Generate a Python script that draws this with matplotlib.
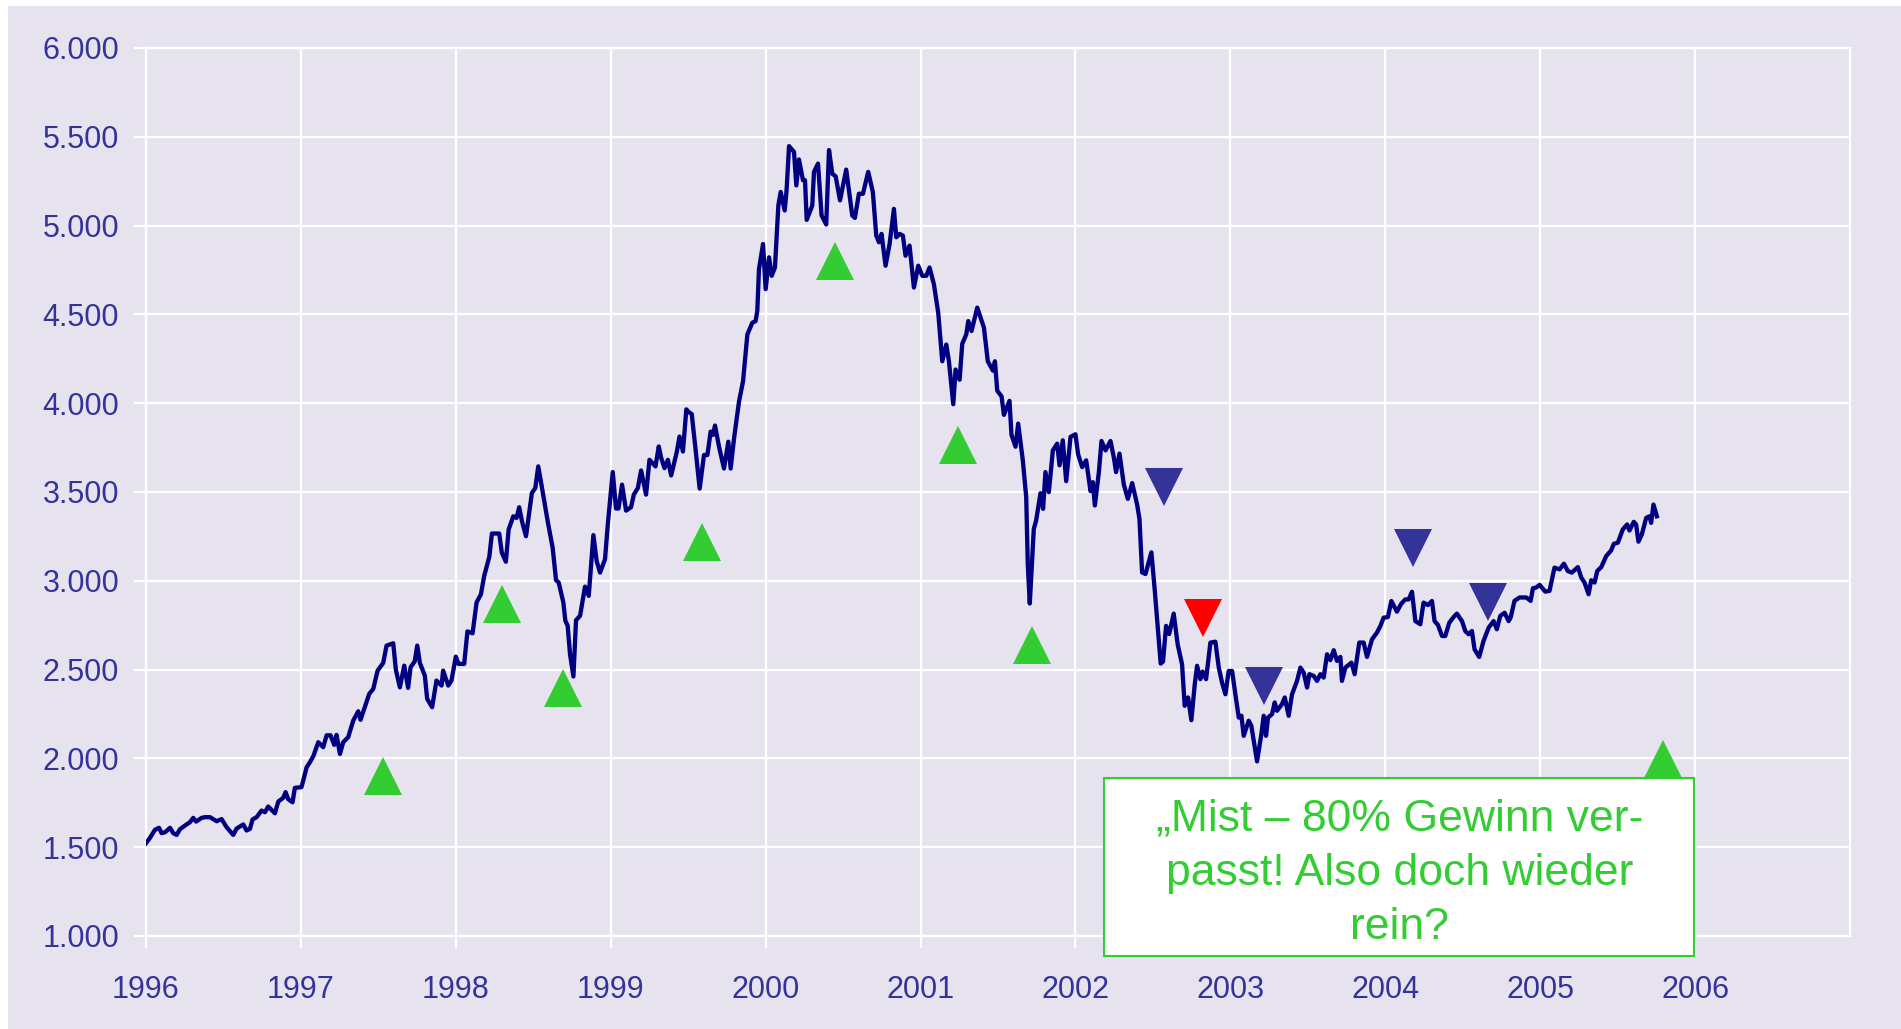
import matplotlib
matplotlib.use("Agg")
import matplotlib.pyplot as plt
from matplotlib.patches import Rectangle
from matplotlib.ticker import FuncFormatter

# index level (weekly-ish)
years = [
    1996.000, 1996.026, 1996.058, 1996.084, 1996.101, 1996.123, 1996.155, 1996.176,
    1996.198, 1996.219, 1996.252, 1996.284, 1996.305, 1996.323, 1996.359, 1996.381,
    1996.413, 1996.456, 1996.488, 1996.520, 1996.563, 1996.585, 1996.628, 1996.649,
    1996.671, 1996.688, 1996.714, 1996.746, 1996.768, 1996.789, 1996.832, 1996.854,
    1996.886, 1996.901, 1996.918, 1996.946, 1996.961, 1997.004, 1997.037, 1997.058,
    1997.080, 1997.112, 1997.144, 1997.166, 1997.191, 1997.215, 1997.230, 1997.252,
    1997.273, 1997.305, 1997.338, 1997.370, 1997.385, 1997.441, 1997.467, 1997.495,
    1997.531, 1997.553, 1997.596, 1997.613, 1997.639, 1997.667, 1997.692, 1997.708,
    1997.735, 1997.751, 1997.768, 1997.800, 1997.815, 1997.847, 1997.875, 1997.908,
    1997.918, 1997.951, 1997.972, 1998.000, 1998.017, 1998.054, 1998.075, 1998.108,
    1998.134, 1998.162, 1998.183, 1998.216, 1998.233, 1998.280, 1998.297, 1998.323,
    1998.341, 1998.371, 1998.392, 1998.409, 1998.427, 1998.453, 1998.491, 1998.513,
    1998.532, 1998.560, 1998.593, 1998.625, 1998.647, 1998.664, 1998.694, 1998.707,
    1998.722, 1998.737, 1998.759, 1998.776, 1998.802, 1998.834, 1998.858, 1998.888,
    1998.909, 1998.931, 1998.963, 1998.981, 1999.013, 1999.034, 1999.050, 1999.073,
    1999.099, 1999.131, 1999.149, 1999.175, 1999.196, 1999.228, 1999.250, 1999.289,
    1999.310, 1999.325, 1999.347, 1999.369, 1999.390, 1999.427, 1999.444, 1999.466,
    1999.488, 1999.505, 1999.523, 1999.548, 1999.574, 1999.602, 1999.624, 1999.645,
    1999.660, 1999.673, 1999.699, 1999.731, 1999.759, 1999.774, 1999.796, 1999.828,
    1999.854, 1999.882, 1999.914, 1999.935, 1999.946, 1999.957, 1999.983, 2000.000,
    2000.022, 2000.039, 2000.060, 2000.082, 2000.097, 2000.123, 2000.135, 2000.151,
    2000.183, 2000.198, 2000.215, 2000.241, 2000.254, 2000.265, 2000.301, 2000.312,
    2000.338, 2000.361, 2000.391, 2000.409, 2000.430, 2000.452, 2000.480, 2000.520,
    2000.559, 2000.576, 2000.602, 2000.628, 2000.662, 2000.692, 2000.714, 2000.731,
    2000.748, 2000.774, 2000.800, 2000.828, 2000.843, 2000.865, 2000.886, 2000.903,
    2000.929, 2000.957, 2000.985, 2001.011, 2001.037, 2001.058, 2001.086, 2001.114,
    2001.140, 2001.166, 2001.183, 2001.211, 2001.226, 2001.252, 2001.269, 2001.295,
    2001.308, 2001.329, 2001.366, 2001.409, 2001.434, 2001.467, 2001.480, 2001.495,
    2001.523, 2001.538, 2001.574, 2001.587, 2001.613, 2001.630, 2001.660, 2001.682,
    2001.692, 2001.705, 2001.731, 2001.746, 2001.774, 2001.791, 2001.806, 2001.828,
    2001.854, 2001.882, 2001.897, 2001.918, 2001.940, 2001.968, 2002.000, 2002.017,
    2002.043, 2002.069, 2002.097, 2002.112, 2002.125, 2002.151, 2002.168, 2002.194,
    2002.226, 2002.247, 2002.262, 2002.284, 2002.312, 2002.338, 2002.366, 2002.398,
    2002.413, 2002.430, 2002.452, 2002.490, 2002.512, 2002.550, 2002.565, 2002.585,
    2002.605, 2002.634, 2002.660, 2002.688, 2002.705, 2002.727, 2002.748, 2002.770,
    2002.785, 2002.806, 2002.821, 2002.843, 2002.871, 2002.903, 2002.925, 2002.946,
    2002.968, 2002.989, 2003.011, 2003.032, 2003.054, 2003.071, 2003.086, 2003.118,
    2003.135, 2003.172, 2003.200, 2003.215, 2003.230, 2003.243, 2003.269, 2003.286,
    2003.301, 2003.333, 2003.351, 2003.376, 2003.398, 2003.430, 2003.452, 2003.473,
    2003.495, 2003.510, 2003.538, 2003.559, 2003.581, 2003.602, 2003.624, 2003.645,
    2003.667, 2003.688, 2003.710, 2003.720, 2003.742, 2003.781, 2003.802, 2003.832,
    2003.860, 2003.882, 2003.914, 2003.946, 2003.968, 2003.989, 2004.017, 2004.039,
    2004.075, 2004.103, 2004.129, 2004.151, 2004.172, 2004.194, 2004.226, 2004.247,
    2004.275, 2004.301, 2004.318, 2004.340, 2004.366, 2004.387, 2004.413, 2004.441,
    2004.462, 2004.495, 2004.516, 2004.538, 2004.559, 2004.576, 2004.606, 2004.634,
    2004.667, 2004.699, 2004.720, 2004.742, 2004.770, 2004.796, 2004.809, 2004.834,
    2004.867, 2004.910, 2004.938, 2004.953, 2004.974, 2004.996, 2005.032, 2005.060,
    2005.092, 2005.125, 2005.153, 2005.178, 2005.204, 2005.243, 2005.265, 2005.286,
    2005.312, 2005.329, 2005.351, 2005.368, 2005.394, 2005.426, 2005.458, 2005.475,
    2005.501, 2005.533, 2005.561, 2005.576, 2005.604, 2005.619, 2005.634, 2005.656,
    2005.684, 2005.705, 2005.716, 2005.731, 2005.753,
]
levels = [
    1522, 1553, 1598, 1609, 1579, 1584, 1609, 1579,
    1569, 1601, 1622, 1641, 1665, 1644, 1665, 1669,
    1669, 1646, 1658, 1613, 1569, 1605, 1628, 1594,
    1603, 1656, 1669, 1706, 1697, 1729, 1691, 1757,
    1778, 1810, 1770, 1753, 1834, 1838, 1950, 1978,
    2012, 2091, 2063, 2130, 2130, 2076, 2132, 2025,
    2091, 2119, 2213, 2265, 2217, 2363, 2391, 2494,
    2537, 2635, 2648, 2498, 2400, 2522, 2397, 2513,
    2547, 2635, 2537, 2466, 2335, 2288, 2438, 2410,
    2494, 2410, 2438, 2573, 2532, 2532, 2715, 2704,
    2878, 2924, 3027, 3134, 3266, 3266, 3158, 3107,
    3289, 3363, 3354, 3414, 3335, 3251, 3494, 3522,
    3644, 3504, 3335, 3186, 3003, 2990, 2878, 2775,
    2747, 2588, 2461, 2778, 2803, 2967, 2915, 3257,
    3111, 3046, 3121, 3317, 3612, 3407, 3407, 3541,
    3395, 3414, 3485, 3522, 3621, 3485, 3681, 3644,
    3756, 3694, 3634, 3681, 3593, 3728, 3812, 3728,
    3965, 3949, 3938, 3736, 3519, 3708, 3708, 3840,
    3821, 3874, 3755, 3632, 3783, 3632, 3802, 4009,
    4123, 4387, 4453, 4462, 4519, 4755, 4896, 4642,
    4821, 4717, 4764, 5113, 5189, 5085, 5198, 5447,
    5415, 5226, 5372, 5255, 5255, 5032, 5113, 5302,
    5349, 5057, 5006, 5425, 5292, 5277, 5142, 5315,
    5057, 5043, 5179, 5179, 5302, 5189, 4943, 4906,
    4953, 4774, 4896, 5094, 4934, 4953, 4943, 4830,
    4887, 4651, 4774, 4717, 4717, 4764, 4670, 4509,
    4236, 4330, 4236, 3994, 4189, 4132, 4334, 4387,
    4462, 4406, 4538, 4425, 4236, 4183, 4236, 4070,
    4038, 3934, 4013, 3821, 3755, 3885, 3678, 3471,
    3094, 2872, 3292, 3339, 3493, 3405, 3612, 3499,
    3734, 3772, 3650, 3791, 3561, 3810, 3825, 3712,
    3640, 3678, 3505, 3555, 3424, 3612, 3787, 3734,
    3787, 3697, 3612, 3716, 3542, 3461, 3550, 3429,
    3348, 3047, 3038, 3160, 2944, 2534, 2545, 2746,
    2700, 2815, 2640, 2530, 2296, 2343, 2215, 2418,
    2521, 2446, 2489, 2446, 2652, 2657, 2511, 2427,
    2361, 2492, 2492, 2361, 2230, 2240, 2127, 2212,
    2184, 1983, 2137, 2240, 2127, 2230, 2249, 2315,
    2268, 2305, 2343, 2240, 2361, 2436, 2511, 2483,
    2399, 2474, 2464, 2436, 2474, 2455, 2586, 2553,
    2609, 2549, 2571, 2436, 2511, 2539, 2474, 2652,
    2652, 2571, 2670, 2708, 2745, 2792, 2796, 2886,
    2826, 2871, 2895, 2895, 2938, 2773, 2755, 2877,
    2863, 2886, 2773, 2751, 2689, 2689, 2764, 2796,
    2815, 2773, 2717, 2699, 2717, 2614, 2571, 2661,
    2736, 2773, 2727, 2802, 2820, 2773, 2793, 2887,
    2906, 2906, 2887, 2958, 2962, 2977, 2939, 2943,
    3074, 3064, 3096, 3055, 3046, 3077, 3018, 2990,
    2924, 3003, 2990, 3055, 3077, 3139, 3171, 3208,
    3214, 3289, 3317, 3283, 3332, 3317, 3220, 3261,
    3354, 3363, 3326, 3429, 3363,
]

# signal markers
buy_years = [1997.53, 1998.30, 1998.69, 1999.59, 2000.45, 2001.24, 2001.72, 2005.79]
buy_levels = [1903, 2871, 2394, 3220, 4800, 3765, 2638, 1997]
sell_years = [2002.57, 2003.22, 2004.18, 2004.66]
sell_levels = [3530, 2406, 3184, 2879]
red_years = [2002.82]
red_levels = [2790]

x_ticks = list(range(1996, 2007))
y_ticks = list(range(1000, 6001, 500))
note = "„Mist – 80% Gewinn ver-\npasst! Also doch wieder\nrein?"

BG = "#E6E3EF"
NAVY = "#000080"
LABEL = "#333399"
GREEN = "#33CC33"
RED = "#FF0000"

plt.rcParams["font.family"] = ["Liberation Sans", "DejaVu Sans"]

fig = plt.figure(figsize=(19.01, 10.29), dpi=100, facecolor="white")
fig.patches.append(Rectangle((8 / 1901, 0), 1 - 8 / 1901, 1 - 6 / 1029,
                             transform=fig.transFigure, facecolor=BG,
                             edgecolor="none", zorder=-10))
ax = fig.add_axes([0.0768, 0.0904, 0.8964, 0.863])
ax.set_facecolor(BG)
ax.set_axisbelow(True)

ax.plot(years, levels, color=NAVY, lw=3.1, zorder=3)
ax.plot(buy_years, buy_levels, ls="none", marker="^", ms=28, mew=0, color=GREEN, zorder=4)
ax.plot(sell_years, sell_levels, ls="none", marker="v", ms=28, mew=0, color=LABEL, zorder=4)
ax.plot(red_years, red_levels, ls="none", marker="v", ms=28, mew=0, color=RED, zorder=4)

ax.set_xlim(1996, 2007)
ax.set_ylim(1000, 6000)
ax.set_xticks(x_ticks)
ax.set_yticks(y_ticks)
ax.yaxis.set_major_formatter(FuncFormatter(lambda v, _: f"{int(v):,}".replace(",", ".")))
ax.grid(True, color="white", lw=1.6)
for s in ax.spines.values():
    s.set_color("white")
    s.set_linewidth(1.6)
ax.tick_params(length=8.3, width=1.5, color="white", labelcolor=LABEL)
ax.tick_params(axis="x", labelsize=22, pad=20)
ax.tick_params(axis="y", labelsize=22, pad=11)

box = Rectangle((2002.187, 887), 3.807, 1003, facecolor="white", edgecolor=GREEN,
                lw=1.5, clip_on=False, zorder=5)
ax.add_patch(box)
ax.text(2004.09, 1774, note, ha="center", va="top", ma="center", fontsize=32,
        color=GREEN, linespacing=1.42, zorder=6)

fig.savefig("out.png", dpi=100, facecolor=fig.get_facecolor())
